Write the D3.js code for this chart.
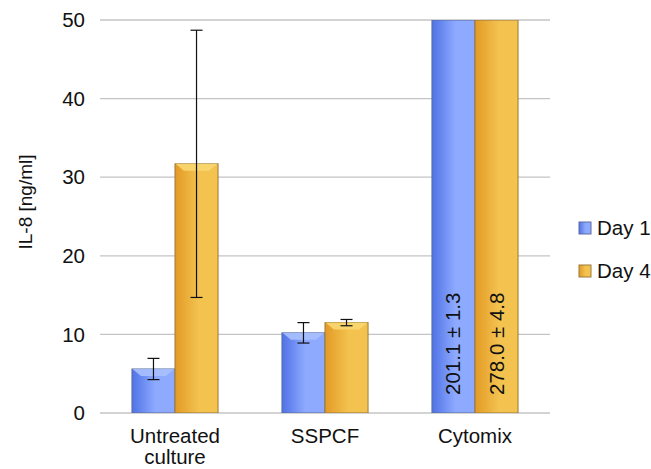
<!DOCTYPE html>
<html>
<head>
<meta charset="utf-8">
<script src="https://cdn.jsdelivr.net/npm/d3@7"></script>
<style>
  body { margin: 0; background: #fff; }
  text { font-family: "Liberation Sans", Arial, sans-serif; fill: #111; }
</style>
</head>
<body>
<svg id="chart" width="651" height="469"></svg>
<script>
var categories = ["Untreated culture", "SSPCF", "Cytomix"];
var series = ["Day 1", "Day 4"];
var day1 = [5.6, 10.2, 201.1];
var day1Err = [1.35, 1.3, 1.3];
var day4 = [31.7, 11.5, 278.0];
var day4Err = [17.0, 0.4, 4.8];
var yTicks = [0, 10, 20, 30, 40, 50];

var svg = d3.select("#chart");
var margin = {left: 100, right: 101, top: 20, bottom: 56};
var width = 651 - margin.left - margin.right,
    height = 469 - margin.top - margin.bottom;
var fs = "20.5px";

var colors = {
  "Day 1": {dark: "#4f72e6", light: "#8eaaff", top: "#a9c0ff", edge: "#5a6f9e"},
  "Day 4": {dark: "#e39a25", light: "#f3c24f", top: "#f8d870", edge: "#9c7a3a"}
};

var defs = svg.append("defs");
series.forEach(function(s, i) {
  var gr = defs.append("linearGradient").attr("id", "grad" + i)
      .attr("x1", "0%").attr("x2", "100%").attr("y1", "0%").attr("y2", "0%");
  gr.append("stop").attr("offset", "0%").attr("stop-color", colors[s].dark);
  gr.append("stop").attr("offset", "55%").attr("stop-color", colors[s].light);
  gr.append("stop").attr("offset", "100%").attr("stop-color", colors[s].light);
});
defs.append("clipPath").attr("id", "plotclip")
  .append("rect").attr("x", 0).attr("y", 0).attr("width", width).attr("height", height);

var g = svg.append("g").attr("transform", "translate(" + margin.left + "," + margin.top + ")");

var x0 = d3.scaleBand().domain(categories).range([0, width]).paddingInner(0).paddingOuter(0);
var x1 = d3.scaleBand().domain(series).range([x0.bandwidth() * 0.213, x0.bandwidth() * 0.787]);
var y = d3.scaleLinear().domain([0, 50]).range([height, 0]);

// gridlines
g.selectAll(".grid").data(yTicks).enter().append("line")
    .attr("x1", 0).attr("x2", width)
    .attr("y1", function(d) { return y(d); })
    .attr("y2", function(d) { return y(d); })
    .attr("stroke", "#c4c4c4").attr("stroke-width", 1.3);

// y tick labels
g.selectAll(".ytick").data(yTicks).enter().append("text")
    .attr("x", -15).attr("y", function(d) { return y(d); })
    .attr("dy", "0.35em").attr("text-anchor", "end")
    .style("font-size", fs)
    .text(function(d) { return d; });

// y axis title
svg.append("text")
    .attr("transform", "translate(32,202) rotate(-90)")
    .attr("text-anchor", "middle")
    .style("font-size", "19px")
    .text("IL-8 [ng/ml]");

// bars
var rows = [];
categories.forEach(function(c, i) {
  rows.push({cat: c, s: "Day 1", si: 0, v: day1[i], e: day1Err[i]});
  rows.push({cat: c, s: "Day 4", si: 1, v: day4[i], e: day4Err[i]});
});

var plot = g.append("g").attr("clip-path", "url(#plotclip)");
var bw = x1.bandwidth();

var bar = plot.selectAll(".bar").data(rows).enter().append("g")
    .attr("transform", function(d) { return "translate(" + (x0(d.cat) + x1(d.s)) + ",0)"; });

bar.append("rect")
    .attr("x", 0).attr("width", bw)
    .attr("y", function(d) { return y(Math.min(d.v, 50)); })
    .attr("height", function(d) { return y(0) - y(Math.min(d.v, 50)); })
    .attr("fill", function(d) { return "url(#grad" + d.si + ")"; })
    .attr("stroke", function(d) { return colors[d.s].edge; })
    .attr("stroke-width", 1);

// top bevel for bars that fit on the scale
bar.filter(function(d) { return d.v < 50; }).append("path")
    .attr("d", function(d) {
      var t = y(d.v), h = 7;
      return "M0.5," + t + "L" + (bw - 0.5) + "," + t + "L" + (bw - 9) + "," + (t + h) +
             "L9," + (t + h) + "Z";
    })
    .attr("fill", function(d) { return colors[d.s].top; })
    .attr("opacity", 0.9);

// error bars
var eb = g.selectAll(".err").data(rows.filter(function(d) { return d.v < 50; })).enter().append("g")
    .attr("transform", function(d) { return "translate(" + (x0(d.cat) + x1(d.s) + bw / 2) + ",0)"; })
    .attr("stroke", "#111").attr("stroke-width", 1.2);
eb.append("line").attr("x1", 0).attr("x2", 0)
    .attr("y1", function(d) { return y(d.v + d.e); })
    .attr("y2", function(d) { return y(d.v - d.e); });
eb.append("line").attr("x1", -6).attr("x2", 6)
    .attr("y1", function(d) { return y(d.v + d.e); })
    .attr("y2", function(d) { return y(d.v + d.e); });
eb.append("line").attr("x1", -6).attr("x2", 6)
    .attr("y1", function(d) { return y(d.v - d.e); })
    .attr("y2", function(d) { return y(d.v - d.e); });

// labels for off-scale bars
g.selectAll(".vlabel").data(rows.filter(function(d) { return d.v >= 50; })).enter().append("text")
    .attr("transform", function(d) {
      return "translate(" + (x0(d.cat) + x1(d.s) + bw / 2 + 7) + "," + (y(0) - 18) + ") rotate(-90)";
    })
    .attr("text-anchor", "start")
    .style("font-size", fs)
    .text(function(d) { return d.v.toFixed(1) + " \u00b1 " + d.e.toFixed(1); });

// x labels
var xl = g.selectAll(".xlabel").data(categories).enter().append("text")
    .attr("x", function(d) { return x0(d) + x0.bandwidth() / 2; })
    .attr("y", height + 30)
    .attr("text-anchor", "middle")
    .style("font-size", fs);
xl.each(function(d) {
  var words = d === "Untreated culture" ? ["Untreated", "culture"] : [d];
  var t = d3.select(this);
  words.forEach(function(w, i) {
    t.append("tspan").attr("x", x0(d) + x0.bandwidth() / 2).attr("dy", i ? "1.04em" : 0).text(w);
  });
});

// legend
var leg = svg.append("g").attr("transform", "translate(579,228)");
var li = leg.selectAll(".li").data(series).enter().append("g")
    .attr("transform", function(d, i) { return "translate(0," + (i * 43) + ")"; });
li.append("rect").attr("x", 0).attr("y", -6).attr("width", 12).attr("height", 12)
    .attr("fill", function(d, i) { return "url(#grad" + i + ")"; })
    .attr("stroke", function(d) { return colors[d].edge; });
li.append("text").attr("x", 18).attr("y", 0).attr("dy", "0.35em")
    .style("font-size", fs)
    .text(function(d) { return d; });
</script>
</body>
</html>
